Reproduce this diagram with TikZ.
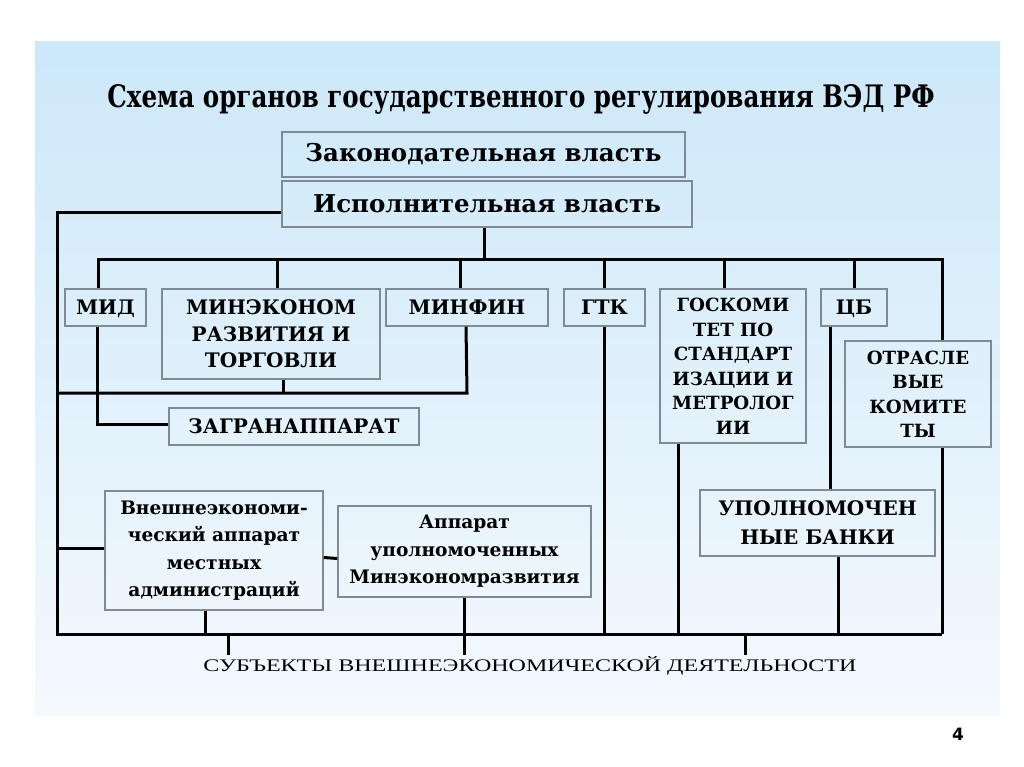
\documentclass[tikz,border=0pt]{standalone}
\usepackage{fontspec}
\setmainfont{Liberation Serif}
\newfontfamily\bser{DejaVu Serif}
\newfontfamily\numfont{DejaVu Sans}
\usetikzlibrary{calc}
\definecolor{bgtop}{RGB}{204,232,249}
\definecolor{bgbot}{RGB}{244,249,253}
\definecolor{boxline}{RGB}{128,138,148}
\tikzset{
  box/.style={draw=boxline, line width=1.4pt, inner sep=0pt, align=center,
    font=\bser\bfseries\fontsize{20}{26.5}\selectfont},
  one/.style={text height=14.5pt, text depth=0pt},
  bigbox/.style={box, font=\bser\bfseries\fontsize{24.5}{30}\selectfont},
  lowbox/.style={box, font=\bser\bfseries\fontsize{18.6}{27.5}\selectfont},
  tallbox/.style={box, font=\bser\bfseries\fontsize{18.2}{24.5}\selectfont},
  conn/.style={line width=3pt, black},
}
\begin{document}
\begin{tikzpicture}[x=1pt,y=-1pt]
\useasboundingbox (0,0) rectangle (1024,767);
\fill[white] (0,0) rectangle (1024,767);
\shade[top color=bgtop, bottom color=bgbot] (35,42) rectangle (1000,715);

\node[anchor=base] (title) at (521,108) {\resizebox{827pt}{23pt}{\bser\bfseries Схема органов государственного регулирования ВЭД РФ}};

\node[bigbox, minimum width=403, minimum height=45] (zak) at (483.5,154.5) {Законодательная власть};
\node[bigbox, minimum width=410, minimum height=46] (isp) at (487,204) {Исполнительная власть};

\node[box, one, minimum width=81, minimum height=37] (mid) at (105.5,307.5) {МИД};
\node[box, minimum width=218, minimum height=90] (mer) at (271,334) {МИНЭКОНОМ\\РАЗВИТИЯ И\\ТОРГОВЛИ};
\node[box, one, minimum width=162, minimum height=37] (mf) at (467,307.5) {МИНФИН};
\node[box, one, minimum width=81, minimum height=37] (gtk) at (604.5,307.5) {ГТК};
\node[tallbox, minimum width=146, minimum height=154] (gs) at (733,366) {ГОСКОМИ\\ТЕТ ПО\\СТАНДАРТ\\ИЗАЦИИ И\\МЕТРОЛОГ\\ИИ};
\node[box, one, minimum width=66, minimum height=37] (cb) at (854,307.5) {ЦБ};
\node[tallbox, minimum width=146, minimum height=106] (otr) at (918,394) {ОТРАСЛЕ\\ВЫЕ\\КОМИТЕ\\ТЫ};
\node[box, one, minimum width=250, minimum height=37] (zag) at (294,426.5) {ЗАГРАНАППАРАТ};
\node[lowbox, minimum width=218, minimum height=119] (vea) at (214,550.5) {Внешнеэкономи-\\ческий аппарат\\местных\\администраций};
\node[lowbox, minimum width=253, minimum height=91] (app) at (464.5,551.5) {Аппарат\\уполномоченных\\Минэкономразвития};
\node[box, minimum width=235, minimum height=66, font=\bser\bfseries\fontsize{20}{29}\selectfont] (ub) at (817.5,523) {УПОЛНОМОЧЕН\\НЫЕ БАНКИ};

\node[anchor=base] (subj) at (530,671) {\resizebox{653pt}{15pt}{СУБЪЕКТЫ ВНЕШНЕЭКОНОМИЧЕСКОЙ ДЕЯТЕЛЬНОСТИ}};
\node[anchor=base, font=\numfont\bfseries\fontsize{17}{20}\selectfont] (pg) at (958,740) {4};

% coordinates of the bus lines
\coordinate (LT) at (57,213);
\coordinate (LB) at (57,634);
\coordinate (RB) at (942,634);
\coordinate (busL) at (98,259);
\coordinate (busR) at (942,259);
\coordinate (M1) at (57,393);
\coordinate (s1) at (228,634);
\coordinate (s2) at (745,634);
\coordinate (sEnd) at (0,655);

% connectors
\draw[conn] ([yshift=-9pt]isp.west) -- (LT) -- (LB) -- (RB);
\draw[conn] ([xshift=-3pt]isp.south) -- ([xshift=-3pt]isp.south |- busL);
\draw[conn] ([xshift=-7.5pt]mid.north) -- (busL) -- (busR) -- ([xshift=24pt]otr.north);
\draw[conn] ([xshift=6pt]mer.north) -- ([xshift=6pt]mer.north |- busL);
\draw[conn] ([xshift=-7pt]mf.north) -- ([xshift=-7pt]mf.north |- busL);
\draw[conn] (gtk.north) -- (gtk.north |- busL);
\draw[conn] ([xshift=-9pt]gs.north) -- ([xshift=-9pt]gs.north |- busL);
\draw[conn] (cb.north) -- (cb.north |- busL);

\draw[conn] ([xshift=-8pt]mid.south) -- ([xshift=-8pt,yshift=2.5pt]mid.south |- zag.west) -- ([yshift=2.5pt]zag.west);
\draw[conn] (M1) -- (M1 -| mf.south) -- ([xshift=-1pt]mf.south);
\draw[conn] ([xshift=12pt]mer.south) -- ([xshift=12pt]mer.south |- M1);

\draw[conn] ([yshift=2.5pt]vea.west) -- ([yshift=2.5pt]vea.west -| LB);
\draw[conn] ([yshift=-7pt]vea.east) -- ([yshift=-7pt]app.west);
\draw[conn] ([xshift=-9pt]vea.south) -- ([xshift=-9pt]vea.south |- LB);
\draw[conn] (app.south) -- (app.south |- sEnd);
\draw[conn] (s1) -- (s1 |- sEnd);
\draw[conn] (s2) -- (s2 |- sEnd);

\draw[conn] (gtk.south) -- (gtk.south |- LB);
\draw[conn] ([xshift=-55pt]gs.south) -- ([xshift=-55pt]gs.south |- LB);
\draw[conn] ([xshift=-24pt]cb.south) -- ([xshift=-24pt]cb.south |- ub.north);
\draw[conn] ([xshift=20.5pt]ub.south) -- ([xshift=20.5pt]ub.south |- LB);
\draw[conn] ([xshift=24pt]otr.south) -- ([xshift=24pt]otr.south |- RB);
\end{tikzpicture}
\end{document}
